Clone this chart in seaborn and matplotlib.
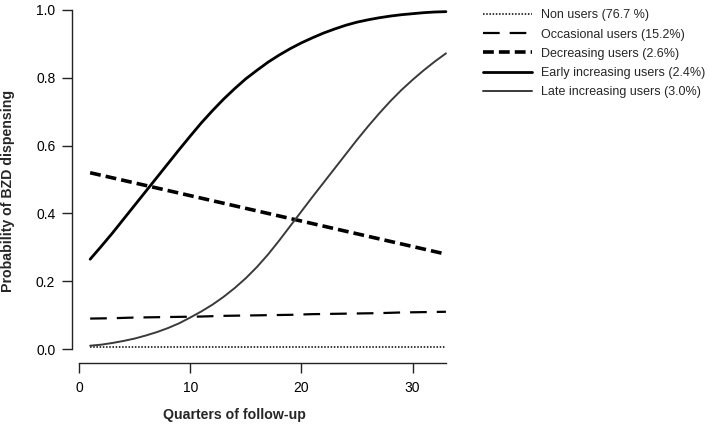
import matplotlib
matplotlib.use("Agg")
import matplotlib.pyplot as plt
import seaborn as sns

# odd quarters for the flat / straight trajectories
quarters_odd = [1, 3, 5, 7, 9, 11, 13, 15, 17, 19, 21, 23, 25, 27, 29, 31, 33]
# every quarter for the curved ones
quarters_all = [1, 2, 3, 4, 5, 6, 7, 8, 9, 10, 11, 12, 13, 14, 15, 16, 17,
                18, 19, 20, 21, 22, 23, 24, 25, 26, 27, 28, 29, 30, 31, 32, 33]

non_users = [0.005, 0.005, 0.005, 0.005, 0.005, 0.005, 0.005, 0.005, 0.005,
             0.005, 0.005, 0.005, 0.005, 0.005, 0.005, 0.005, 0.005]
occasional = [0.090, 0.091, 0.093, 0.094, 0.095, 0.096, 0.098, 0.099, 0.100,
              0.101, 0.103, 0.104, 0.105, 0.106, 0.108, 0.109, 0.110]
decreasing = [0.520, 0.505, 0.490, 0.475, 0.460, 0.445, 0.430, 0.415, 0.400,
              0.385, 0.370, 0.355, 0.340, 0.325, 0.310, 0.295, 0.280]
early_inc = [0.265, 0.303, 0.342, 0.383, 0.424, 0.465, 0.506, 0.547, 0.588,
             0.628, 0.667, 0.703, 0.737, 0.768, 0.797, 0.822, 0.846, 0.867,
             0.886, 0.903, 0.918, 0.932, 0.944, 0.955, 0.964, 0.971, 0.977,
             0.982, 0.986, 0.989, 0.992, 0.994, 0.995]
late_inc = [0.010, 0.013, 0.018, 0.024, 0.031, 0.040, 0.050, 0.062, 0.076,
            0.093, 0.111, 0.131, 0.154, 0.180, 0.209, 0.242, 0.279, 0.320,
            0.363, 0.406, 0.449, 0.491, 0.533, 0.575, 0.617, 0.657, 0.695,
            0.731, 0.764, 0.794, 0.822, 0.848, 0.872]

labels = [
    "Non users (76.7 %)",
    "Occasional users (15.2%)",
    "Decreasing users (2.6%)",
    "Early increasing users (2.4%)",
    "Late increasing users (3.0%)",
]

sns.set_theme(style="ticks")
plt.rcParams["font.family"] = ["Liberation Sans", "DejaVu Sans"]

fig = plt.figure(figsize=(7.09, 4.24), dpi=100)
ax = fig.add_axes([0.1016, 0.1439, 0.533, 0.8406])

series = [
    (quarters_odd, non_users),
    (quarters_odd, occasional),
    (quarters_odd, decreasing),
    (quarters_all, early_inc),
    (quarters_all, late_inc),
]
styles = [
    dict(color="black", lw=1.1, linestyle=(0, (1, 1.1))),
    dict(color="black", lw=1.6, linestyle=(0, (7.5, 4.5))),
    dict(color="black", lw=2.6, linestyle=(0, (3, 1.4))),
    dict(color="black", lw=2.0, linestyle="-"),
    dict(color="#3a3a3a", lw=1.4, linestyle="-"),
]

for (xs, ys), lab, st in zip(series, labels, styles):
    sns.lineplot(x=xs, y=ys, ax=ax, label=lab, **st)

ax.set_xlim(-0.63, 33.36)
ax.set_ylim(-0.041, 1.01)
ax.set_xticks([0, 10, 20, 30])
ax.set_yticks([0.0, 0.2, 0.4, 0.6, 0.8, 1.0])
ax.set_yticklabels(["0.0", "0.2", "0.4", "0.6", "0.8", "1.0"])

for side in ["top", "right"]:
    ax.spines[side].set_visible(False)
ax.spines["left"].set_bounds(0, 1)
ax.spines["bottom"].set_bounds(0, 33)
for side in ["left", "bottom"]:
    ax.spines[side].set_linewidth(1.0)
    ax.spines[side].set_color("#222222")

ax.tick_params(axis="both", direction="out", length=7, width=1.0,
               colors="#222222", labelsize=10, labelcolor="black")
ax.tick_params(axis="y", pad=5)
ax.tick_params(axis="x", pad=6)

ax.set_xlabel("Quarters of follow-up", fontsize=10.2, fontweight="bold")
ax.set_ylabel("Probability of BZD dispensing", fontsize=10.2, fontweight="bold")
ax.xaxis.set_label_coords(0.43, -0.125)
ax.yaxis.set_label_coords(-0.15, 0.483)

leg = ax.legend(loc="upper left", bbox_to_anchor=(0.681, 0.978),
                bbox_transform=fig.transFigure, frameon=False, fontsize=9,
                handlelength=3.9, handletextpad=0.75, labelspacing=0.58,
                borderpad=0, borderaxespad=0)

fig.savefig("out.png", dpi=100)
